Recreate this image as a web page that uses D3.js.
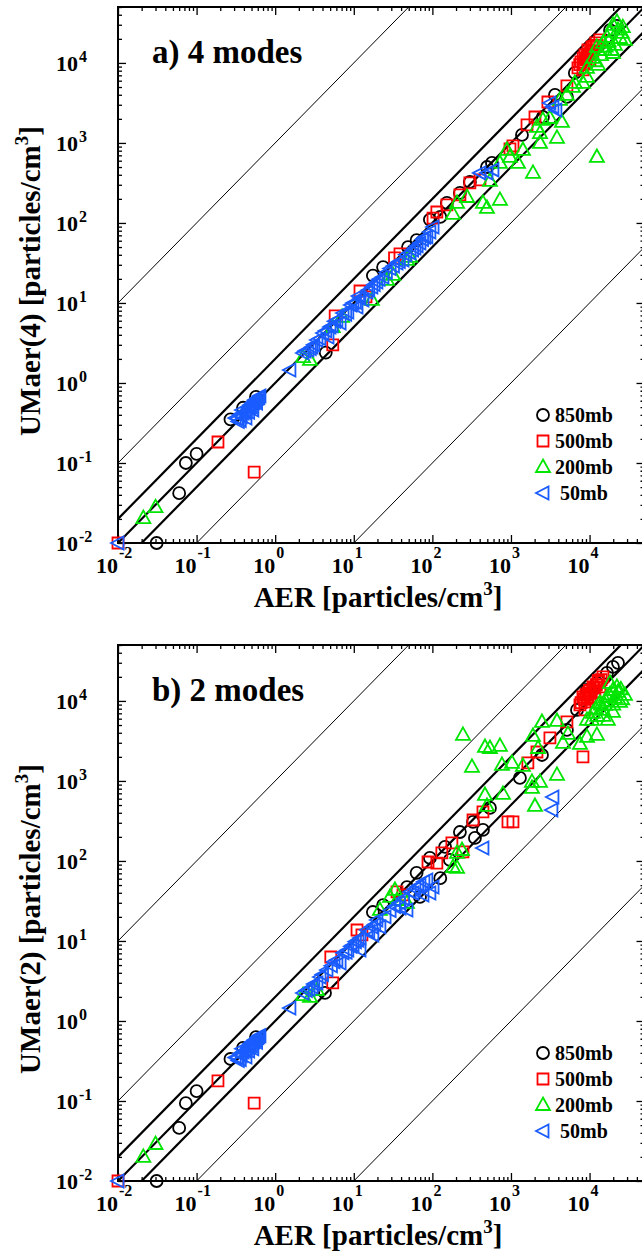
<!DOCTYPE html>
<html>
<head>
<meta charset="utf-8">
<script src="https://cdn.jsdelivr.net/npm/d3@7"></script>
<style>
  body { margin: 0; background: #fff; }
  text { font-family: "Liberation Serif", "Times New Roman", serif; font-weight: bold; }
</style>
</head>
<body>
<div id="chart"></div>
<script>
// tick decades and reference lines (y = ratio * x)
const tickExps = [-2, -1, 0, 1, 2, 3, 4];
const thinRatios = [1e-3, 1e-1, 1e1, 1e3];
const thickRatios = [0.5, 1, 2];

// legend
const levels = ["850mb", "500mb", "200mb", " 50mb"];
const colors = ["#000000", "#ff0000", "#00e600", "#1a5cff"];

// panel a) 4 modes : [AER, UMaer(4)]
const a850 = [[0.031,0.01],[0.060,0.042],[0.073,0.10],[0.10,0.13],[0.27,0.35],[0.39,0.49],[0.57,0.67],[4.4,2.4],[17.5,22],[23.6,28],[49,50],[63,61],[93,110],[126,119],[153,178],[224,237],[300,325],[495,500],[573,562],[1380,1260],[2550,2110],[3630,3980],[5150,3760],[6500,7500],[18200,25700],[22300,29000]];
const a500 = [[0.01,0.01],[0.187,0.183],[0.54,0.077],[5.4,3.0],[5.8,6.9],[12,14.1],[14.3,11.9],[33,36.5],[38.7,41],[102,115],[114,137],[153,168],[224,224],[300,316],[403,345],[971,841],[1060,917],[1600,1680],[2020,2110],[2950,3250],[5150,5160],[7120,8660],[7770,10290],[8750,12600],[9550,14500],[10700,15800],[12000,17800],[13500,19400],[8240,8180],[10100,10900],[7500,9500],[8300,11500],[9000,11000],[9800,13000],[10300,13800],[11300,16200],[12500,16500],[8600,9800],[9300,12000],[11000,14000]];
const a200 = [[0.021,0.0205],[0.030,0.028],[2.26,2.11],[2.77,1.94],[5.4,5.0],[7.1,6.7],[17,10.9],[26.5,19.4],[31.6,22.4],[47.5,34.5],[52,37.6],[183,130],[206,178],[276,211],[440,178],[495,154],[540,335],[724,194],[724,562],[890,817],[971,668],[1230,562],[1420,817],[1905,422],[2140,1585],[2340,1000],[2340,1330],[2550,1940],[3130,2050],[3850,1155],[4450,1830],[4200,3450],[5150,3980],[6150,5010],[6500,5620],[8240,5620],[9270,6680],[12400,668],[9270,8660],[11050,11550],[12800,9440],[12400,15850],[14800,17800],[16650,21100],[18200,24400],[19850,29850],[22300,32550],[24400,20500],[25800,23700],[19300,14500],[19850,13300],[15700,14500],[21000,16800],[28200,19400],[14000,12500],[17500,18500],[23000,26000],[26500,28000],[16000,16000],[11800,10500]];
const a50 = [[0.01,0.01],[0.31,0.365],[0.356,0.40],[0.378,0.46],[0.41,0.43],[0.45,0.49],[0.48,0.53],[0.51,0.56],[0.55,0.61],[0.60,0.65],[0.64,0.69],[0.34,0.33],[0.425,0.365],[0.52,0.46],[0.33,0.36],[0.37,0.38],[0.39,0.42],[0.43,0.45],[0.47,0.50],[0.50,0.50],[0.53,0.57],[0.57,0.60],[0.62,0.66],[0.58,0.56],[0.46,0.43],[0.36,0.34],[1.54,1.45],[2.26,2.37],[2.61,2.58],[2.94,2.82],[3.40,3.45],[4.06,4.2],[4.7,3.76],[4.98,5.0],[6.1,6.1],[6.7,5.6],[7.3,7.5],[8.4,7.7],[9.8,10],[11,8.9],[12,11.5],[13.1,10.9],[14.7,13.7],[17,15.8],[19.7,18.3],[23.5,21.1],[35.5,31.6],[42.3,34.5],[52,42.2],[60,48.7],[69.5,56],[85,67],[93,77],[102,89],[2.4,2.5],[2.8,2.7],[3.1,3.0],[3.7,3.6],[4.4,4.5],[5.3,5.2],[5.7,5.9],[7.9,7.2],[9.2,9.4],[10.5,10.2],[11.5,12.2],[15.5,14.5],[18.2,17],[21,19.8],[26,24],[29,27],[32,29],[38,33],[46,40],[56,46],[64,52],[75,62],[80,66],[403,422],[495,422],[590,460],[3130,3160],[3420,2820],[3730,2580]];

// panel b) 2 modes : [AER, UMaer(2)]
const b850 = [[0.031,0.01],[0.060,0.046],[0.073,0.094],[0.10,0.133],[0.27,0.335],[0.39,0.46],[0.57,0.63],[4.3,2.24],[17.5,23],[23.6,28],[47.5,47],[63,71],[69.5,35.5],[93,109],[126,61],[145,150],[167,103],[224,230],[348,194],[440,244],[329,307],[540,460],[1300,1090],[2480,2110],[5150,4340],[6920,7720],[9270,13700],[12400,16800],[16650,22400],[19850,26600],[23000,29900]];
const b500 = [[0.01,0.01],[0.187,0.178],[0.54,0.094],[5.4,3.0],[5.1,6.3],[11,13.7],[12.7,11.9],[35.5,41],[42.3,37.6],[88,97],[114,94],[132,126],[177,168],[245,130],[329,325],[440,410],[916,307],[1060,307],[1640,1680],[2140,2300],[3130,3450],[5150,5460],[8240,2000],[7550,8910],[8240,11200],[9270,9710],[9550,12600],[11050,15000],[12800,17300],[14800,19950],[13500,15000],[10100,11200],[11700,12960],[8750,7720],[7800,9500],[8600,10500],[9000,12000],[10000,13500],[10500,12500],[11500,14500],[12200,16000],[13000,18000],[14000,18500],[9500,10800]];
const b200 = [[0.021,0.02],[0.030,0.029],[2.26,2.11],[2.77,2.0],[3.4,2.44],[21.5,24.4],[28.9,35.5],[33.4,43.4],[35.5,32.5],[47.5,29.9],[183,84],[206,126],[206,82],[238,137],[245,3760],[319,1500],[467,2660],[540,2580],[724,2740],[768,1585],[1030,1680],[1420,1540],[1905,3650],[2480,5460],[2210,2580],[3850,5620],[4590,2990],[5310,3870],[7550,2900],[9270,3550],[12400,3760],[9270,5790],[3850,1190],[2340,972],[1850,972],[1850,817],[2020,487],[467,668],[791,688],[495,487],[24400,9710],[19850,13700],[18200,16800],[16650,11200],[14800,7720],[11050,7080],[19850,7290],[22300,15000],[13500,9440],[10700,5790],[28200,11900],[17100,5790],[15700,8910],[12000,8000],[14000,9000],[16000,10000],[18000,12000],[21000,11000],[23000,13000],[20000,9000],[25000,14000],[26000,10500],[15000,6500],[12500,6500]];
const b50 = [[0.01,0.01],[0.31,0.35],[0.356,0.39],[0.378,0.45],[0.41,0.42],[0.45,0.47],[0.48,0.52],[0.51,0.55],[0.55,0.58],[0.60,0.62],[0.64,0.66],[0.34,0.32],[0.425,0.355],[0.52,0.45],[0.33,0.35],[0.37,0.37],[0.39,0.41],[0.43,0.44],[0.47,0.49],[0.50,0.49],[0.53,0.55],[0.57,0.58],[0.62,0.64],[0.58,0.54],[0.46,0.42],[0.36,0.33],[1.54,1.45],[2.26,2.24],[2.94,2.66],[3.4,2.99],[3.72,3.55],[4.56,4.34],[6.1,5.79],[6.7,5.3],[7.3,7.1],[8.4,7.7],[9.8,8.9],[12,10.9],[12,7.7],[14.7,13.7],[17,15],[17.5,11.9],[19.7,18.3],[21.5,15],[2.5,2.4],[2.7,2.5],[3.1,2.9],[4.0,3.8],[5.2,4.9],[5.6,5.5],[8,7.2],[9.2,8.6],[10.5,9.8],[11.3,10.2],[15.5,13],[18.5,16],[25,20],[29,24],[33,27],[38,30],[43,34],[52,41],[60,45],[65,48],[78,55],[38.7,25.8],[47.5,24.4],[56.6,39.8],[69.5,50],[85,57.9],[93,39.8],[75.9,37.6],[102,47.3],[440,145],[3420,631],[3320,434]];

const panels = [
    { title: "a) 4 modes", ylab: "UMaer(4) [particles/cm", bottom: 543, series: [a850, a500, a200, a50] },
    { title: "b) 2 modes", ylab: "UMaer(2) [particles/cm", bottom: 1181, series: [b850, b500, b200, b50] }
];

// marker outlines
const shapes = [
    "M6,0A6,6 0 1,1 -6,0A6,6 0 1,1 6,0Z",
    "M-5.5,-5.5H5.5V5.5H-5.5Z",
    "M0,-7.5L7,5L-7,5Z",
    "M-7,0L5.5,-6.5L5.5,6.5Z"
];

const svg = d3.select("#chart").append("svg")
    .attr("width", 642).attr("height", 1255)
    .style("background", "#fff");

const left = 118, right = 644.5;
const x = d3.scaleLog().domain([1e-2, 5e4]).range([left, right]);

const minor = [];
tickExps.forEach(k => { for (let m = 2; m <= 9; m++) { const v = m * Math.pow(10, k); if (v <= 5e4) minor.push(v); } });
const major = tickExps.map(k => Math.pow(10, k));

panels.forEach((p, i) => {
    const bottom = p.bottom, top = bottom - 536;
    const y = d3.scaleLog().domain([1e-2, 5e4]).range([bottom, top]);
    const g = svg.append("g");

    // clip for the reference lines
    g.append("clipPath").attr("id", "clip" + i)
        .append("rect").attr("x", left).attr("y", top)
        .attr("width", right - left).attr("height", bottom - top);

    const lines = g.append("g").attr("clip-path", `url(#clip${i})`);
    thinRatios.forEach(r => {
        lines.append("line")
            .attr("x1", x(1e-2)).attr("y1", y(r * 1e-2))
            .attr("x2", x(5e4)).attr("y2", y(r * 5e4))
            .attr("stroke", "#000").attr("stroke-width", 1);
    });
    thickRatios.forEach(r => {
        lines.append("line")
            .attr("x1", x(1e-2)).attr("y1", y(r * 1e-2))
            .attr("x2", x(5e4)).attr("y2", y(r * 5e4))
            .attr("stroke", "#000").attr("stroke-width", 2.2);
    });

    // ticks on all four sides, pointing in
    const axes = [
        [d3.axisBottom, x, `translate(0,${bottom})`],
        [d3.axisTop, x, `translate(0,${top})`],
        [d3.axisLeft, y, `translate(${left},0)`],
        [d3.axisRight, y, `translate(${right},0)`]
    ];
    axes.forEach(([ax, sc, tr]) => {
        [[minor, 4], [major, 8]].forEach(([vals, len]) => {
            const a = g.append("g").attr("transform", tr)
                .call(ax(sc).tickValues(vals).tickSize(-len).tickSizeOuter(0).tickFormat(""));
            a.select(".domain").remove();
            a.selectAll("line").attr("stroke", "#000").attr("stroke-width", 1.3);
        });
    });

    g.append("rect")
        .attr("x", left).attr("y", top)
        .attr("width", right - left).attr("height", bottom - top)
        .attr("fill", "none").attr("stroke", "#000").attr("stroke-width", 2);

    // tick labels 10^k
    tickExps.forEach(k => {
        const v = Math.pow(10, k);
        g.append("text").attr("x", x(v)).attr("y", bottom + 30)
            .attr("text-anchor", "end").style("font-size", "22px").text("10");
        g.append("text").attr("x", x(v) + 1).attr("y", bottom + 15)
            .style("font-size", "16px").text(k);
        g.append("text").attr("x", 78).attr("y", y(v) + 8)
            .attr("text-anchor", "end").style("font-size", "22px").text("10");
        g.append("text").attr("x", 79).attr("y", y(v) - 1)
            .style("font-size", "16px").text(k);
    });

    // axis titles
    const xt = g.append("text").attr("x", 378).attr("y", bottom + 64)
        .attr("text-anchor", "middle").style("font-size", "29px");
    xt.append("tspan").text("AER [particles/cm");
    xt.append("tspan").attr("dy", -12).style("font-size", "19px").text("3");
    xt.append("tspan").attr("dy", 12).text("]");

    const yt = g.append("text")
        .attr("transform", `translate(40,${bottom - 262}) rotate(-90)`)
        .attr("text-anchor", "middle").style("font-size", "29px");
    yt.append("tspan").text(p.ylab);
    yt.append("tspan").attr("dy", -12).style("font-size", "19px").text("3");
    yt.append("tspan").attr("dy", 12).text("]");

    g.append("text").attr("x", 152).attr("y", top + 56)
        .style("font-size", "33px").text(p.title);

    // points: 850, 500, 200, 50 (blue on top)
    p.series.forEach((data, s) => {
        g.append("g").selectAll("path").data(data).enter().append("path")
            .attr("d", shapes[s])
            .attr("transform", d => `translate(${x(d[0])},${y(d[1])})`)
            .attr("fill", "none").attr("stroke", colors[s]).attr("stroke-width", 1.8);
    });

    // legend
    levels.forEach((lab, s) => {
        const ly = bottom - 128 + s * 26;
        g.append("path").attr("d", shapes[s])
            .attr("transform", `translate(543,${ly})`)
            .attr("fill", "none").attr("stroke", colors[s]).attr("stroke-width", 1.8);
        g.append("text").attr("x", 555).attr("y", ly + 7)
            .style("font-size", "20px").style("white-space", "pre")
            .attr("xml:space", "preserve").text(lab);
    });
});
</script>
</body>
</html>
